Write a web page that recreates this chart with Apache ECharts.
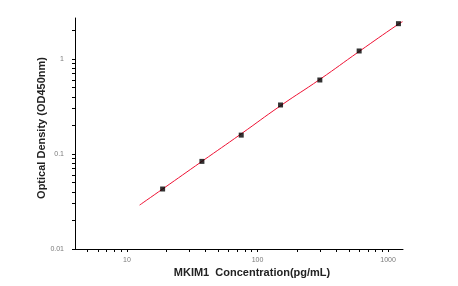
<!DOCTYPE html>
<html>
<head>
<meta charset="utf-8">
<script src="https://cdn.jsdelivr.net/npm/echarts@6/dist/echarts.min.js"></script>
<style>html,body{margin:0;padding:0;background:#fff;}#c{width:458px;height:286px;}</style>
</head>
<body>
<div id="c"></div>
<script>
// Standard points
const concentrations = [18.75, 37.5, 75, 150, 300, 600, 1200];
const odValues = [0.0428, 0.0836, 0.158, 0.328, 0.601, 1.214, 2.353];
// Fitted curve
const fitX = [12.5, 18.75, 37.5, 75, 150, 300, 600, 1200, 1290];
const fitY = [0.029, 0.0428, 0.0836, 0.163, 0.322, 0.61, 1.2, 2.33, 2.47];
// Tick labels
const xLabels = [10, 100, 1000];
const yLabels = [0.01, 0.1, 1];
const xTicks = [5,6,7,8,9,10,20,30,40,50,60,70,80,90,100,200,300,400,500,600,700,800,900,1000];
const yTicks = [0.01,0.02,0.03,0.04,0.05,0.06,0.07,0.08,0.09,0.1,0.2,0.3,0.4,0.5,0.6,0.7,0.8,0.9,1,2];

const chart = echarts.init(document.getElementById('c'), null, {renderer: 'canvas'});
const labelStyle = {fontFamily: 'Liberation Sans, Arial', fontSize: 7, color: '#7a7a7a'};
chart.setOption({
  animation: false,
  grid: {left: 75, right: 55, top: 18, bottom: 37},
  xAxis: {
    type: 'log', logBase: 10, min: 4, max: 1300,
    name: 'MKIM1  Concentration(pg/mL)', nameLocation: 'middle', nameGap: 18,
    nameMoveOverlap: false,
    nameTextStyle: {fontFamily: 'Liberation Sans, Arial', fontSize: 11, fontWeight: 'bold', color: '#222', padding: [0,0,0,26]},
    axisLine: {show: true, lineStyle: {color: '#000', width: 1}},
    axisTick: {show: true, inside: false, length: 3, customValues: xTicks, lineStyle: {color: '#000'}},
    axisLabel: Object.assign({customValues: xLabels, margin: 8, formatter: v => String(v)}, labelStyle),
    splitLine: {show: false}
  },
  yAxis: {
    type: 'log', logBase: 10, min: 0.01, max: 2.7,
    name: 'Optical Density (OD450nm)', nameLocation: 'middle', nameGap: 28, nameRotate: 90,
    nameMoveOverlap: false,
    nameTextStyle: {fontFamily: 'Liberation Sans, Arial', fontSize: 11, fontWeight: 'bold', color: '#222', padding: [0,0,0,11]},
    axisLine: {show: true, lineStyle: {color: '#000', width: 1}},
    axisTick: {show: true, inside: false, length: 3, customValues: yTicks, lineStyle: {color: '#000'}},
    axisLabel: Object.assign({customValues: yLabels, margin: 11, formatter: v => String(v)}, labelStyle),
    splitLine: {show: false}
  },
  series: [
    {
      type: 'line',
      data: fitX.map((x, i) => [x, fitY[i]]),
      symbol: 'none', smooth: true,
      lineStyle: {color: '#ee1133', width: 1},
      z: 2
    },
    {
      type: 'scatter',
      data: concentrations.map((x, i) => [x, odValues[i]]),
      symbol: 'rect', symbolSize: 5,
      itemStyle: {color: '#000'},
      z: 3
    }
  ]
});
</script>
</body>
</html>
